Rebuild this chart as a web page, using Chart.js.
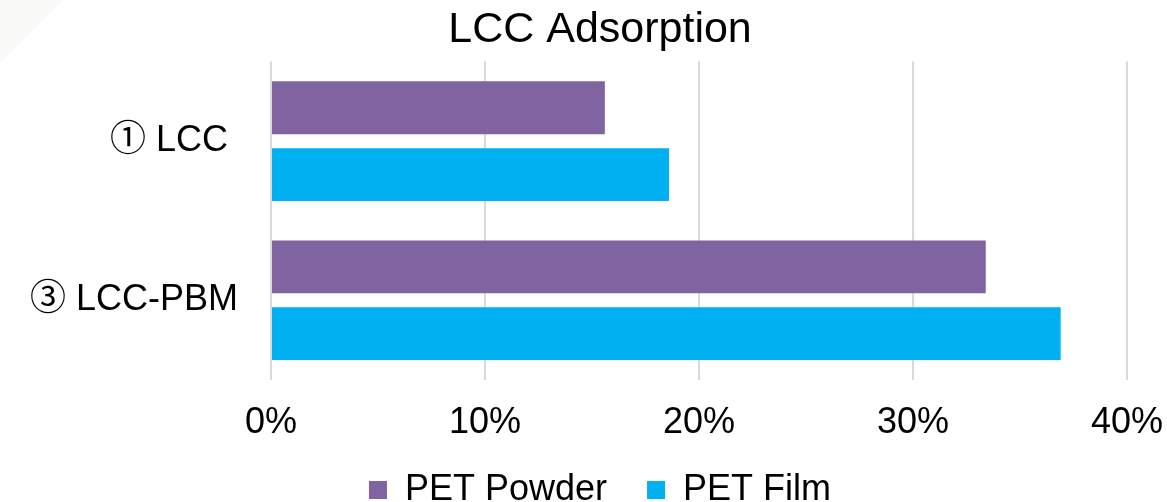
<!DOCTYPE html>
<html>
<head>
<meta charset="utf-8">
<script src="https://cdn.jsdelivr.net/npm/chart.js@4/dist/chart.umd.min.js"></script>
<style>
    html, body {
        margin: 0;
        padding: 0;
        width: 1167px;
        height: 502px;
        overflow: hidden;
        background: linear-gradient(135deg, #f9f9f7 0px, #f9f9f7 44px, #ffffff 45px);
    }
    #wrap {
        position: absolute;
        left: 0;
        top: 0;
        width: 1200px;
        height: 518px;
    }
</style>
</head>
<body>
<div id="wrap"><canvas id="adsorptionChart"></canvas></div>
<script>
// Adsorption share per enzyme variant (percent)
const categories = ['\u2460 LCC ', '\u2462 LCC-PBM'];
const powderValues = [15.6, 33.4];
const filmValues = [18.6, 36.9];
const seriesNames = ['PET Powder', 'PET Film'];
const xTicks = [0, 10, 20, 30, 40];

const FONT = '"Liberation Sans", Arial, "Noto Sans CJK JP", sans-serif';

function initChart() {
    const ctx = document.getElementById('adsorptionChart').getContext('2d');

    Chart.defaults.font.family = FONT;
    Chart.defaults.color = '#000000';

    new Chart(ctx, {
        type: 'bar',
        data: {
            labels: categories,
            datasets: [
                {
                    label: seriesNames[0],
                    data: powderValues,
                    backgroundColor: '#8064A2',
                    borderWidth: 0
                },
                {
                    label: seriesNames[1],
                    data: filmValues,
                    backgroundColor: '#00B0F0',
                    borderWidth: 0
                }
            ]
        },
        options: {
            indexAxis: 'y',
            responsive: true,
            maintainAspectRatio: false,
            animation: false,
            categoryPercentage: 0.84,
            barPercentage: 0.79,
            plugins: {
                title: {
                    display: true,
                    text: 'LCC Adsorption',
                    color: '#000000',
                    font: { size: 43, weight: 'normal' },
                    padding: { top: 4, bottom: 6 }
                },
                legend: {
                    position: 'bottom',
                    labels: {
                        boxWidth: 18,
                        boxHeight: 18,
                        padding: 10,
                        color: '#000000',
                        font: { size: 36 },
                        generateLabels: (chart) => {
                            const items = Chart.defaults.plugins.legend.labels.generateLabels(chart);
                            // widen the gap after the first entry
                            items[0].text = items[0].text + '   ';
                            return items;
                        }
                    }
                },
                tooltip: { enabled: false }
            },
            scales: {
                x: {
                    min: 0,
                    max: 40,
                    afterBuildTicks: (axis) => {
                        axis.ticks = xTicks.map(v => ({ value: v }));
                    },
                    afterFit: (axis) => {
                        axis.height -= 5;
                    },
                    grid: {
                        color: '#D9D9D9',
                        lineWidth: 2,
                        drawTicks: false
                    },
                    border: { display: false },
                    ticks: {
                        padding: 22,
                        color: '#000000',
                        font: { size: 36 },
                        callback: (value) => value + '%'
                    }
                },
                y: {
                    afterFit: (axis) => {
                        axis.width = 271;
                    },
                    grid: { display: false, drawTicks: false },
                    border: { display: false },
                    ticks: {
                        padding: 33,
                        color: '#000000',
                        font: { size: 36 }
                    }
                },
                // empty right-hand axis keeps room for the last x label
                yRight: {
                    type: 'category',
                    position: 'right',
                    afterFit: (axis) => {
                        axis.width = 73;
                    },
                    grid: { display: false, drawTicks: false },
                    border: { display: false },
                    ticks: { display: false }
                }
            }
        }
    });
}

document.addEventListener('DOMContentLoaded', initChart);
</script>
</body>
</html>
